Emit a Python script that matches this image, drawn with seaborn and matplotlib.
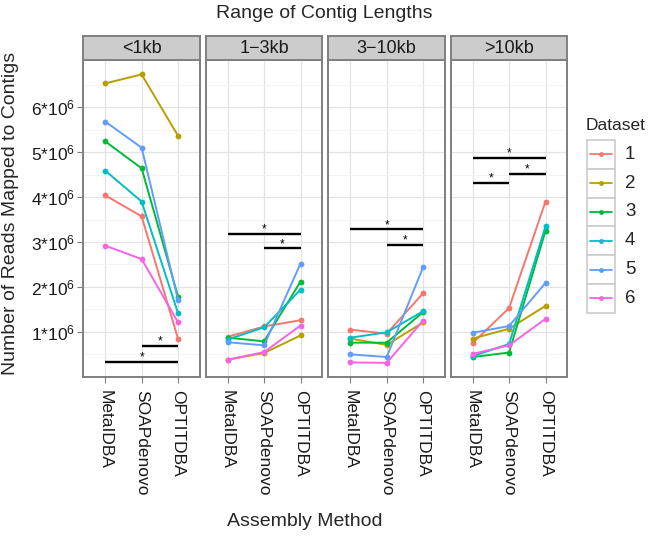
import matplotlib
matplotlib.use("Agg")
import matplotlib.pyplot as plt
import matplotlib.patches as mpatches
import numpy as np
import pandas as pd
import seaborn as sns

# ---------------- data (reads in millions) ----------------
panels = ["<1kb", "1\u22123kb", "3\u221210kb", ">10kb"]
methods = ["MetaIDBA", "SOAPdenovo", "OPTITDBA"]
datasets = ["1", "2", "3", "4", "5", "6"]

reads_lt1kb = {
    "1": [4.04, 3.57, 0.84],
    "2": [6.53, 6.73, 5.36],
    "3": [5.24, 4.64, 1.78],
    "4": [4.59, 3.90, 1.41],
    "5": [5.68, 5.10, 1.70],
    "6": [2.92, 2.62, 1.21],
}
reads_1to3kb = {
    "1": [0.89, 1.12, 1.26],
    "2": [0.38, 0.53, 0.92],
    "3": [0.87, 0.79, 2.12],
    "4": [0.83, 1.10, 1.94],
    "5": [0.77, 0.70, 2.52],
    "6": [0.38, 0.55, 1.14],
}
reads_3to10kb = {
    "1": [1.05, 0.96, 1.86],
    "2": [0.85, 0.71, 1.21],
    "3": [0.76, 0.76, 1.44],
    "4": [0.87, 0.99, 1.46],
    "5": [0.50, 0.44, 2.44],
    "6": [0.32, 0.31, 1.25],
}
reads_gt10kb = {
    "1": [0.75, 1.53, 3.90],
    "2": [0.85, 1.07, 1.58],
    "3": [0.44, 0.54, 3.25],
    "4": [0.46, 0.73, 3.35],
    "5": [0.98, 1.13, 2.09],
    "6": [0.51, 0.70, 1.29],
}
panel_data = [reads_lt1kb, reads_1to3kb, reads_3to10kb, reads_gt10kb]

# significance brackets: panel index, start method, end method, height (millions)
sig_panel = [0, 0, 1, 1, 2, 2, 3, 3, 3]
sig_start = ["SOAPdenovo", "MetaIDBA", "MetaIDBA", "SOAPdenovo", "MetaIDBA",
             "SOAPdenovo", "MetaIDBA", "MetaIDBA", "SOAPdenovo"]
sig_end = ["OPTITDBA", "OPTITDBA", "OPTITDBA", "OPTITDBA", "OPTITDBA",
           "OPTITDBA", "OPTITDBA", "SOAPdenovo", "OPTITDBA"]
sig_height = [0.68, 0.33, 3.18, 2.86, 3.28, 2.93, 4.87, 4.32, 4.52]

y_ticks = [1, 2, 3, 4, 5, 6]
y_tick_labels = [r"$%d{*}10^{6}$" % v for v in y_ticks]

colors = ["#F8766D", "#B79F00", "#00BA38", "#00BFC4", "#619CFF", "#F564E3"]
palette = dict(zip(datasets, colors))

# ---------------- long table ----------------
rows = []
for p, d in zip(panels, panel_data):
    for ds in datasets:
        for m, v in zip(methods, d[ds]):
            rows.append({"Panel": p, "Method": m, "Dataset": ds, "Reads": v})
df = pd.DataFrame(rows)

# ---------------- style ----------------
sns.set_style("white")
plt.rcParams["font.family"] = ["Liberation Sans", "DejaVu Sans"]
plt.rcParams["mathtext.fontset"] = "custom"
plt.rcParams["mathtext.rm"] = "Liberation Sans"
plt.rcParams["mathtext.default"] = "regular"

W, H = 648, 536
fig = plt.figure(figsize=(W / 100, H / 100), dpi=100)

def fx(px):
    return px / W

def fy(py):
    return 1 - py / H

panel_left = [83.3, 205.7, 328.3, 450.7]
panel_w = 116.7
panel_top, panel_bot = 60.0, 377.3
strip_top = 35.5

all_vals = list(df["Reads"]) + sig_height
rng = max(all_vals) - min(all_vals)
ylo, yhi = min(all_vals) - 0.05 * rng, max(all_vals) + 0.05 * rng

border = "#7F7F7F"
for i, p in enumerate(panels):
    ax = fig.add_axes([fx(panel_left[i]), fy(panel_bot), fx(panel_w),
                       (panel_bot - panel_top) / H])
    sub = df[df["Panel"] == p]
    sns.lineplot(data=sub, x="Method", y="Reads", hue="Dataset",
                 hue_order=datasets, palette=palette, marker="o",
                 markersize=4.2, markeredgewidth=0, linewidth=1.4,
                 sort=False, legend=False, ax=ax)
    ax.set_xlim(-0.6, 2.6)
    ax.set_ylim(ylo, yhi)
    # grid
    ax.set_yticks(y_ticks)
    ax.set_yticks(np.arange(0.5, 7.01, 1.0), minor=True)
    ax.set_xticks(range(len(methods)))
    ax.set_xticklabels(methods, rotation=-90, fontsize=12.5, color="#1a1a1a",
                       va="top", ha="center")
    ax.grid(which="major", color="#E3E3E3", linewidth=0.9)
    ax.grid(which="minor", axis="y", color="#F3F3F3", linewidth=0.7)
    ax.set_axisbelow(True)
    ax.tick_params(axis="x", which="major", length=4, width=0.8,
                   color=border, pad=5, direction="out", bottom=True)
    ax.tick_params(axis="y", which="minor", length=0, left=False)
    if i == 0:
        ax.set_yticklabels(y_tick_labels, fontsize=12.5, color="#1a1a1a")
        ax.tick_params(axis="y", which="major", length=4, width=0.8,
                       color=border, pad=2, direction="out", left=True)
    else:
        ax.set_yticklabels([])
        ax.tick_params(axis="y", which="major", length=0, left=False)
    ax.set_xlabel("")
    ax.set_ylabel("")
    for s in ax.spines.values():
        s.set_visible(True)
        s.set_color(border)
        s.set_linewidth(1.4)

    # significance brackets
    for sp, s0, s1, h in zip(sig_panel, sig_start, sig_end, sig_height):
        if sp != i:
            continue
        x0, x1 = methods.index(s0), methods.index(s1)
        ax.plot([x0, x1], [h, h], color="black", linewidth=1.7,
                solid_capstyle="butt", zorder=5)
        ax.text((x0 + x1) / 2, h + 0.03, "*", ha="center", va="baseline",
                fontsize=8.5, color="black", zorder=5)

    # strip
    sax = fig.add_axes([fx(panel_left[i]), fy(panel_top), fx(panel_w),
                        (panel_top - strip_top) / H])
    sax.set_facecolor("#CCCCCC")
    sax.set_xticks([])
    sax.set_yticks([])
    for s in sax.spines.values():
        s.set_color(border)
        s.set_linewidth(1.4)
    sax.text(0.5, 0.47, p, ha="center", va="center", fontsize=13,
             color="#1a1a1a", transform=sax.transAxes)

# overlay for titles and legend
ov = fig.add_axes([0, 0, 1, 1], zorder=-1)
ov.set_xlim(0, W)
ov.set_ylim(H, 0)
ov.axis("off")
ov.patch.set_alpha(0)

fig.text(fx(324), fy(13), "Range of Contig Lengths", ha="center",
         va="center", fontsize=14)
fig.text(fx(305), fy(521), "Assembly Method", ha="center", va="center",
         fontsize=14)
fig.text(fx(11), fy(213), "Number of Reads Mapped to Contigs", ha="center",
         va="center", rotation=90, fontsize=14)

# legend
ov.text(586, 126, "Dataset", ha="left", va="center", fontsize=12.5)
key_top, key_h, key_x0, key_x1 = 140.0, 28.8, 586.7, 615.0
for k, ds in enumerate(datasets):
    y0 = key_top + k * key_h
    ov.add_patch(mpatches.Rectangle((key_x0, y0), key_x1 - key_x0, key_h,
                                    facecolor="white", edgecolor="#CCCCCC",
                                    linewidth=1.2))
    yc = y0 + key_h / 2
    ov.plot([key_x0 + 3, key_x1 - 3], [yc, yc], color=palette[ds],
            linewidth=1.3)
    ov.plot([(key_x0 + key_x1) / 2], [yc], marker="o", markersize=3.5,
            markeredgewidth=0, color=palette[ds])
    ov.text(625, yc, ds, ha="left", va="center", fontsize=13.5)

fig.savefig("out.png", dpi=100)
